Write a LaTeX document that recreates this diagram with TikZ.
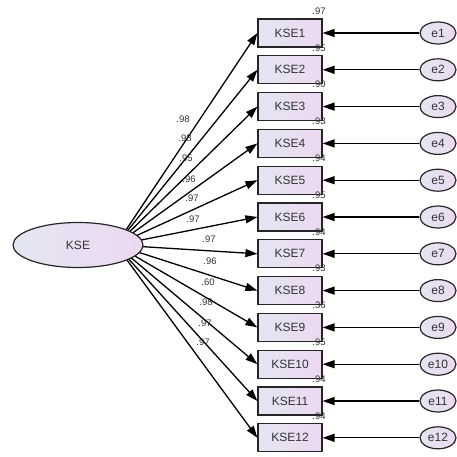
\documentclass[tikz,border=0pt]{standalone}
\usepackage{fontspec}
\setmainfont{Liberation Sans}
\usetikzlibrary{arrows.meta,shapes.geometric}
\definecolor{lc}{HTML}{E3E6F2}
\definecolor{rc}{HTML}{EDD8F1}
\definecolor{tc}{HTML}{333333}
\tikzset{
  obsbox/.style={draw=black!85,line width=1.2pt,minimum width=64pt,minimum height=28pt,inner sep=0pt,
    left color=lc,right color=rc,text=tc,font=\fontsize{12}{14}\selectfont},
  errell/.style={ellipse,draw=black!85,line width=1.2pt,minimum width=36pt,minimum height=22pt,inner sep=0pt,
    left color=lc,right color=rc,text=tc,font=\fontsize{12}{14}\selectfont},
  latell/.style={ellipse,draw=black!85,line width=1.2pt,minimum width=130pt,minimum height=45pt,inner sep=0pt,
    left color=lc,right color=rc,text=tc,font=\fontsize{12}{14}\selectfont},
  conn/.style={draw=black,line width=1.3pt,-{Triangle[length=12pt,width=8pt]}},
  lab/.style={text=tc,font=\fontsize{9.5}{11}\selectfont,inner sep=0pt}
}
\begin{document}
\begin{tikzpicture}[x=1pt,y=-1pt]
\useasboundingbox (0,0) rectangle (457,456);
\coordinate (kc) at (116,245);
\foreach \i/\r in {1/.97,2/.95,3/.90,4/.93,5/.94,6/.95,7/.94,8/.93,9/.36,10/.95,11/.94,12/.94}{
  \pgfmathsetmacro{\yy}{33+36.8*(\i-1)}
  \node[obsbox] (k\i) at (290,\yy) {KSE\i};
  \node[errell] (e\i) at (438,\yy) {e\i};
  \node[lab] (r\i) at (319,\yy-22) {\r};
  \draw[conn] (e\i) -- (k\i);
  \draw[conn] (kc) -- (k\i.west);
}
\node[latell] (kse) at (78,245) {KSE};
\foreach \i/\v/\x/\y in {1/.98/183/119,2/.98/185/138,3/.95/186/158,4/.96/189/179,5/.97/192/198,6/.97/193/219,7/.97/209/239,8/.96/210/261,9/.60/208/282,10/.98/206/302,11/.97/205/323,12/.97/203/342}{
  \node[lab] (l\i) at (\x,\y) {\v};
}
\end{tikzpicture}
\end{document}
